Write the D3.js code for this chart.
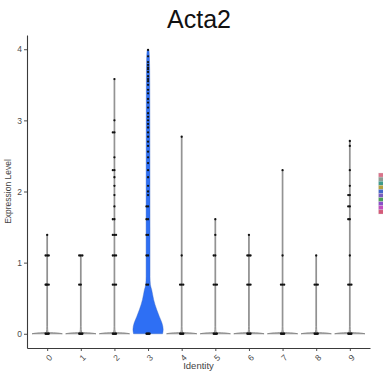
<!DOCTYPE html>
<html>
<head>
<meta charset="utf-8">
<script src="https://cdn.jsdelivr.net/npm/d3@7"></script>
<style>
  html, body { margin: 0; padding: 0; background: #fff; }
  svg { display: block; font-family: "Liberation Sans", Arial, Helvetica, sans-serif; }
</style>
</head>
<body>
<svg id="chart" width="383" height="381"></svg>
<script>
// ---- data -------------------------------------------------------------
const title = "Acta2";
const clusters = ["0", "1", "2", "3", "4", "5", "6", "7", "8", "9"];
const yTicks = [0, 1, 2, 3, 4];

// expression values of the plotted cells per identity (repeats = overlapping cells)
const cells0 = [0, 0, 0, 0, 0, 0.69, 0.69, 0.69, 0.69, 1.1, 1.1, 1.1, 1.39];
const cells1 = [0, 0, 0, 0, 0, 0.69, 0.69, 1.1, 1.1, 1.1];
const cells2 = [0, 0, 0, 0, 0, 0.69, 0.69, 0.69, 1.1, 1.1, 1.1, 1.39, 1.39, 1.39, 1.61, 1.61,
                1.79, 1.95, 2.08, 2.2, 2.3, 2.3, 2.48, 2.83, 2.83, 3.0, 3.58];
const cells3 = [0, 0, 0, 0, 0, 0.69, 0.69, 1.1, 1.1, 1.39, 1.39, 1.61, 1.61, 1.79, 1.79, 1.95,
                2.0, 2.08, 2.2, 2.3, 2.4, 2.48, 2.56, 2.64, 2.7, 2.77, 2.83, 2.9, 2.95, 3.0,
                3.05, 3.1, 3.18, 3.25, 3.3, 3.38, 3.43, 3.5, 3.55, 3.58, 3.62, 3.68, 3.72,
                3.74, 3.78, 3.82, 3.9, 3.99];
const cells4 = [0, 0, 0, 0, 0, 0.69, 0.69, 0.69, 1.1, 2.77];
const cells5 = [0, 0, 0, 0, 0, 0.69, 0.69, 0.69, 1.1, 1.1, 1.39, 1.61];
const cells6 = [0, 0, 0, 0, 0, 0.69, 0.69, 0.69, 1.1, 1.1, 1.1, 1.39];
const cells7 = [0, 0, 0, 0, 0, 0.69, 0.69, 0.69, 1.1, 2.3];
const cells8 = [0, 0, 0, 0, 0, 0.69, 0.69, 0.69, 1.1];
const cells9 = [0, 0, 0, 0, 0, 0.69, 0.69, 0.69, 1.1, 1.61, 1.61, 1.79, 1.79, 1.95, 1.95,
                2.08, 2.3, 2.64, 2.71];
const cellsByCluster = [cells0, cells1, cells2, cells3, cells4, cells5, cells6, cells7, cells8, cells9];

// violin half-widths (fraction of the widest violin) along the expression axis
const profile3 = [[0, 0.96], [0.06, 1.0], [0.15, 0.92], [0.24, 0.75], [0.34, 0.57], [0.48, 0.37],
                  [0.62, 0.24], [0.69, 0.155], [0.8, 0.13], [1.5, 0.13], [2.5, 0.125],
                  [3.5, 0.115], [3.9, 0.09], [3.99, 0.06]];
// identities where almost every cell is zero: wide at 0, a hairline above
const profileZeroHeavy = [[0, 1.0], [0.01, 0.7], [0.02, 0.05], [0.1, 0.025]];

const violinFill = ["#cfcfcf", "#cfcfcf", "#cfcfcf", "#2e6ff4", "#cfcfcf",
                    "#cfcfcf", "#cfcfcf", "#cfcfcf", "#cfcfcf", "#cfcfcf"];
const legendColors = ["#d9738a", "#8c9c94", "#3f9a8c", "#b3a23f", "#4466c8",
                      "#7a5cbf", "#4a9e5a", "#8a4fc9", "#c24fc0", "#d45a78"];

// ---- layout ------------------------------------------------------------
const svg = d3.select("#chart");
const plotLeft = 27, plotRight = 370, plotTop = 35, plotBottom = 348;

const x = d3.scalePoint().domain(clusters).range([plotLeft, plotRight]).padding(0.6);
const y = d3.scaleLinear().domain([-0.2, 4.2]).range([plotBottom, plotTop]);
const halfMax = x.step() * 0.45;

// title
svg.append("text")
  .attr("x", (plotLeft + plotRight) / 2 + 0.5)
  .attr("y", 28)
  .attr("text-anchor", "middle")
  .attr("font-size", 25)
  .attr("fill", "#111")
  .text(title);

// violins
const violinArea = (cx) => d3.area()
  .y(d => y(d[0]))
  .x0(d => cx - d[1] * halfMax)
  .x1(d => cx + d[1] * halfMax)
  .curve(d3.curveMonotoneY);

clusters.forEach((c, i) => {
  const cells = cellsByCluster[i];
  const maxVal = d3.max(cells);
  const prof = i === 3 ? profile3 : profileZeroHeavy.concat([[maxVal, 0.025]]);
  svg.append("path")
    .datum(prof)
    .attr("d", violinArea(x(c)))
    .attr("fill", violinFill[i])
    .attr("stroke", i === 3 ? "#3a66c0" : "#7a7a7a")
    .attr("stroke-width", i === 3 ? 0.4 : 0.75);
});

// cells: overlapping values are spread a little sideways
const spread = [0, -1.6, 1.6, -0.8, 0.8, -2.2, 2.2];
clusters.forEach((c, i) => {
  const seen = new Map();
  const pts = cellsByCluster[i].map(v => {
    const k = seen.get(v) || 0;
    seen.set(v, k + 1);
    return { v, dx: spread[k % spread.length] };
  });
  svg.append("g").selectAll("circle")
    .data(pts)
    .join("circle")
    .attr("cx", d => x(c) + d.dx)
    .attr("cy", d => y(d.v))
    .attr("r", 1.15)
    .attr("fill", "#111");
});

// axes
const axisColor = "#3a3a3a";
const yAxis = svg.append("g")
  .attr("transform", `translate(${plotLeft},0)`)
  .call(d3.axisLeft(y).tickValues(yTicks).tickFormat(d3.format("d"))
        .tickSize(3).tickSizeOuter(0).tickPadding(2));
const xAxis = svg.append("g")
  .attr("transform", `translate(0,${plotBottom})`)
  .call(d3.axisBottom(x).tickSize(3).tickSizeOuter(0).tickPadding(2));

[yAxis, xAxis].forEach(g => {
  g.select(".domain").attr("stroke", axisColor).attr("stroke-width", 1.1);
  g.selectAll(".tick line").attr("stroke", axisColor).attr("stroke-width", 0.9);
  g.selectAll(".tick text").attr("fill", "#4a4a4a").attr("font-size", 8.5)
    .attr("font-family", "Liberation Sans, Arial, sans-serif");
});

xAxis.selectAll(".tick text")
  .attr("y", 0).attr("dy", "0.35em")
  .attr("text-anchor", "end")
  .attr("transform", "translate(3,8) rotate(-45)");

// axis titles
svg.append("text")
  .attr("transform", `translate(11,${(plotTop + plotBottom) / 2}) rotate(-90)`)
  .attr("text-anchor", "middle")
  .attr("font-size", 8.5)
  .attr("fill", "#444")
  .text("Expression Level");

svg.append("text")
  .attr("x", (plotLeft + plotRight) / 2)
  .attr("y", 369)
  .attr("text-anchor", "middle")
  .attr("font-size", 9.5)
  .attr("fill", "#444")
  .text("Identity");

// legend keys (clipped by the right edge)
svg.append("g").selectAll("rect")
  .data(legendColors)
  .join("rect")
  .attr("x", 378.5)
  .attr("y", (d, i) => 173 + i * 4.1)
  .attr("width", 6)
  .attr("height", 4.1)
  .attr("fill", d => d)
  .attr("stroke", "#ddd")
  .attr("stroke-width", 0.3);
</script>
</body>
</html>
